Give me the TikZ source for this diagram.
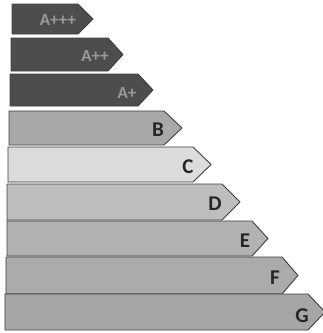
\documentclass[tikz,border=0pt]{standalone}
\usepackage{fontspec}
\setmainfont{Carlito}
\definecolor{darkbar}{HTML}{4D4D4D}
\definecolor{darktext}{HTML}{9A9A9A}
\definecolor{colB}{HTML}{A8A8A8}
\definecolor{colC}{HTML}{DCDCDC}
\definecolor{colD}{HTML}{BEBEBE}
\definecolor{colE}{HTML}{B2B2B2}
\definecolor{colF}{HTML}{ABABAB}
\definecolor{colG}{HTML}{A6A6A6}
\definecolor{edge}{HTML}{3F3F3F}
\tikzset{
  barshape/.style={draw=edge, line width=0.9pt, line join=round},
  lettertext/.style={font=\bfseries\fontsize{21}{21}\selectfont, text=black!85, inner sep=0pt},
  darklabel/.style={font=\bfseries\fontsize{17}{17}\selectfont, text=darktext, inner sep=0pt}
}
\begin{document}
\begin{tikzpicture}[x=1pt,y=-1pt]
\useasboundingbox (0,0) rectangle (323,333);
\fill[white] (0,0) rectangle (323,333);
% bars
\path[barshape, fill=darkbar] (12,4) -- (78,4) -- (93,19) -- (78,34) -- (12,34) -- cycle;
\path[barshape, fill=darkbar] (11,38) -- (108,38) -- (123,54.5) -- (108,71) -- (11,71) -- cycle;
\path[barshape, fill=darkbar] (10,74) -- (138,74) -- (153,90) -- (138,106) -- (10,106) -- cycle;
\path[barshape, fill=colB] (9,111) -- (164,111) -- (182,128) -- (164,145) -- (9,145) -- cycle;
\path[barshape, fill=colC] (8,147) -- (193,147) -- (211,164.5) -- (193,182) -- (8,182) -- cycle;
\path[barshape, fill=colD] (7,184) -- (222,184) -- (240,202) -- (222,220) -- (7,220) -- cycle;
\path[barshape, fill=colE] (7,221) -- (252,221) -- (268,238.5) -- (252,256) -- (7,256) -- cycle;
\path[barshape, fill=colF] (6,257) -- (282,257) -- (298,275.5) -- (282,294) -- (6,294) -- cycle;
\path[barshape, fill=colG] (5,294) -- (308,294) -- (325,312) -- (308,330) -- (5,330) -- cycle;
% labels
\node[darklabel] (app) at (58,20) {A+++};
\node[darklabel] (ap2) at (95,56) {A++};
\node[darklabel] (ap1) at (127,93) {A+};
\node[lettertext] (lb) at (158,130) {B};
\node[lettertext] (lc) at (188,167) {C};
\node[lettertext] (ld) at (215,204) {D};
\node[lettertext] (le) at (245,241) {E};
\node[lettertext] (lf) at (275,278) {F};
\node[lettertext] (lg) at (302,316) {G};
\end{tikzpicture}
\end{document}
